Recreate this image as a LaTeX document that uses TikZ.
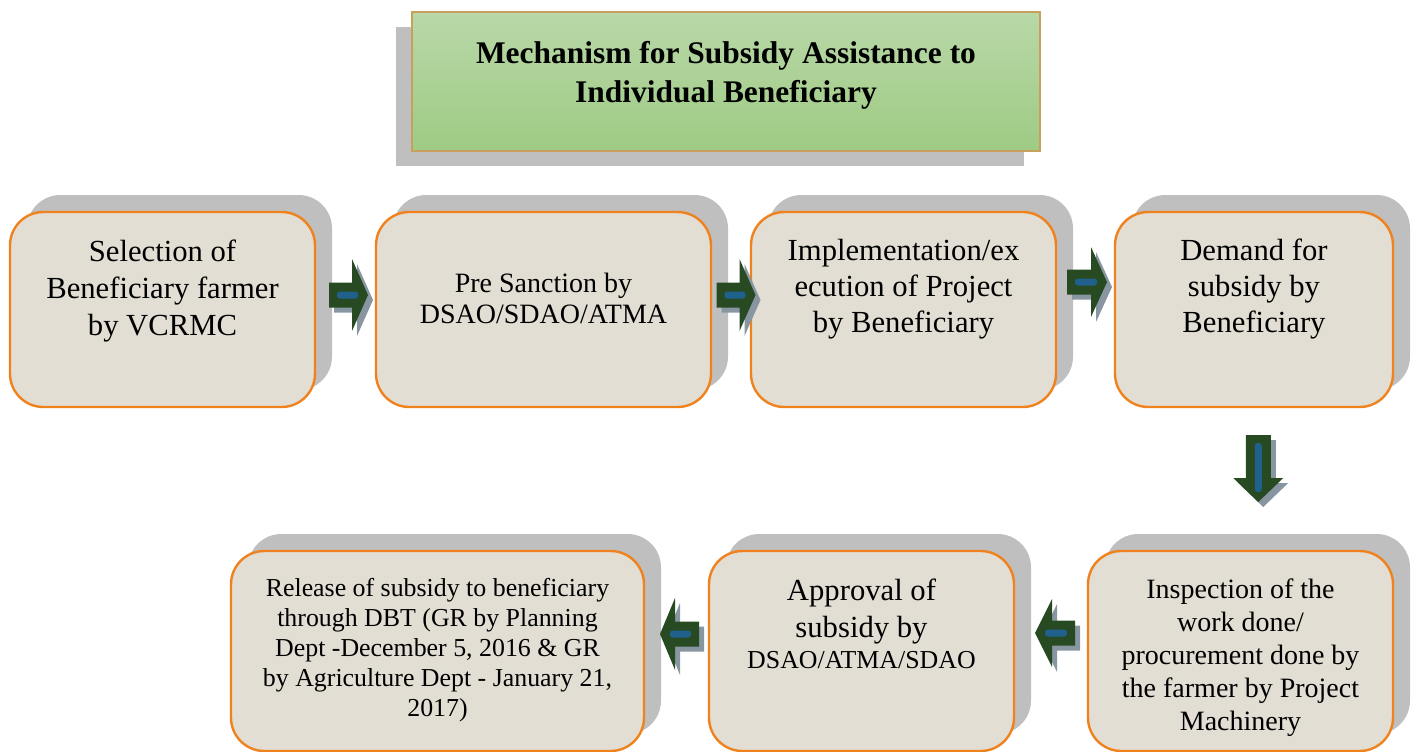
\documentclass[tikz,border=0pt]{standalone}
\usepackage{fontspec}
\setmainfont{Liberation Serif}
\usetikzlibrary{calc,shadows}

\definecolor{boxfill}{RGB}{226,222,212}
\definecolor{boxline}{RGB}{240,130,30}
\definecolor{shadowgray}{RGB}{191,191,191}
\definecolor{titletop}{RGB}{185,216,168}
\definecolor{titlebottom}{RGB}{158,203,132}
\definecolor{titleline}{RGB}{198,160,92}
\definecolor{arrowgreen}{RGB}{40,74,34}
\definecolor{arrowblue}{RGB}{31,96,140}
\definecolor{arrowshadow}{RGB}{136,150,162}

\tikzset{
	pics/blockarrow/.style n args={4}{code={
		\fill[arrowshadow, shift={(5,5)}, rotate=#1] (-#2,-12.5) -- (#2-#3,-12.5) -- (#2-#3,-#4) -- (#2,0) -- (#2-#3,#4) -- (#2-#3,12.5) -- (-#2,12.5) -- cycle;
		\fill[arrowgreen, rotate=#1] (-#2,-12.5) -- (#2-#3,-12.5) -- (#2-#3,-#4) -- (#2,0) -- (#2-#3,#4) -- (#2-#3,12.5) -- (-#2,12.5) -- cycle;
		\fill[arrowblue, rotate=#1, rounded corners=2pt] (-#2+8,-3.5) rectangle (#2-10,3.5);
	}}
}

\begin{document}
\begin{tikzpicture}[x=0.75pt, y=-0.75pt,
		stepbox/.style={draw=boxline, line width=1.8pt, fill=boxfill, rounded corners=25pt, inner sep=0pt,
			drop shadow={shadow xshift=12.75pt, shadow yshift=12.75pt, fill=shadowgray, opacity=1}},
		txt/.style={align=center, inner sep=0pt, text=black}]
	\useasboundingbox (0,0) rectangle (1415,751);

	\node[draw=titleline, line width=1pt, top color=titletop, bottom color=titlebottom,
		minimum width=471pt, minimum height=104.25pt, inner sep=0pt,
		drop shadow={shadow xshift=-12pt, shadow yshift=-11.25pt, fill=shadowgray, opacity=1}] (title) at (726,81.5) {};
	\node[txt, font=\bfseries\fontsize{23.6}{29.25}\selectfont] (ttl) at ([yshift=5pt]title.center)
		{Mechanism for Subsidy Assistance to\\Individual Beneficiary};

	\node[stepbox, minimum width=228.75pt, minimum height=146.25pt] (s1) at (162.5,309.5) {};
	\node[stepbox, minimum width=251.25pt, minimum height=146.25pt] (s2) at (543.5,309.5) {};
	\node[stepbox, minimum width=228.75pt, minimum height=146.25pt] (s3) at (903.5,309.5) {};
	\node[stepbox, minimum width=208.5pt, minimum height=146.25pt] (s4) at (1254,309.5) {};
	\node[stepbox, minimum width=228.75pt, minimum height=150pt] (s5) at (1240.5,651) {};
	\node[stepbox, minimum width=228.75pt, minimum height=150pt] (s6) at (861.5,651) {};
	\node[stepbox, minimum width=309.75pt, minimum height=150pt] (s7) at (437.5,651) {};

	\node[txt, font=\fontsize{23}{27.75}\selectfont] (t1) at ([yshift=13.5pt]s1.center)
		{Selection of\\Beneficiary farmer\\by VCRMC};
	\node[txt, font=\fontsize{21}{23.25}\selectfont] (t2) at ([yshift=8.6pt]s2.center)
		{Pre Sanction by\\DSAO/SDAO/ATMA};
	\node[txt, font=\fontsize{23}{27}\selectfont] (t3) at ([yshift=15pt]s3.center)
		{Implementation/ex\\ecution of Project\\by Beneficiary};
	\node[txt, font=\fontsize{23}{27}\selectfont] (t4) at ([yshift=15pt]s4.center)
		{Demand for\\subsidy by\\Beneficiary};
	\node[txt, font=\fontsize{21}{24.75}\selectfont] (t5) at ([yshift=-5.2pt]s5.center)
		{Inspection of the\\work done/\\procurement done by\\the farmer by Project\\Machinery};
	\node[txt, font=\fontsize{23}{27.75}\selectfont] (t6) at ([yshift=20.5pt]s6.center)
		{Approval of\\subsidy by\\[-5pt]{\fontsize{19.4}{23}\selectfont DSAO/ATMA/SDAO}};
	\node[txt, font=\fontsize{19.4}{22.5}\selectfont] (t7) at ([yshift=1pt]s7.center)
		{Release of subsidy to beneficiary\\through DBT (GR by Planning\\Dept -December 5, 2016 \& GR\\by Agriculture Dept - January 21,\\2017)};

	\pic (ar1) at ($(s1.east)!0.5!(s2.west)+(3,-14.5)$) {blockarrow={0}{19.5}{16}{36}};
	\pic (ar2) at ($(s2.east)!0.5!(s3.west)+(5,-14.5)$) {blockarrow={0}{19.5}{16}{36}};
	\pic (ar3) at ($(s3.east)!0.5!(s4.west)+(1.5,-27.5)$) {blockarrow={0}{20}{16}{35}};
	\pic (ar4) at ($(s4.south)!0.5!(s5.north)+(11,-10.5)$) {blockarrow={-90}{33.5}{24}{25}};
	\pic (ar5) at ($(s5.west)!0.5!(s6.east)+(4,-18)$) {blockarrow={180}{20}{17}{34}};
	\pic (ar6) at ($(s6.west)!0.5!(s7.east)+(3,-17)$) {blockarrow={180}{19.5}{15}{36}};
\end{tikzpicture}
\end{document}
